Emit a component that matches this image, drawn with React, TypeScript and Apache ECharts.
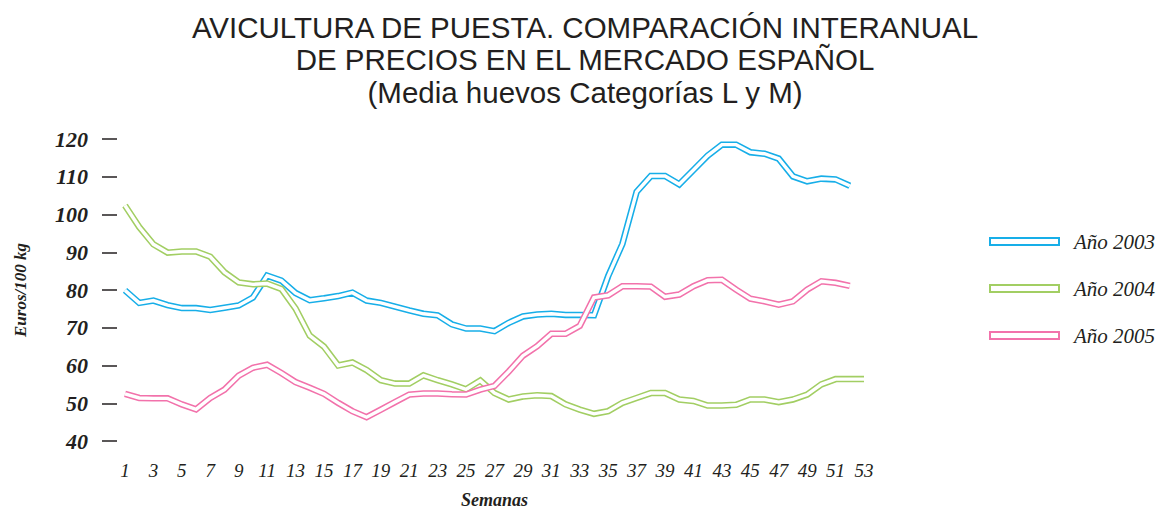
import React, { useEffect, useRef } from "react";
import * as echarts from "echarts";

const weeks: string[] = Array.from({ length: 53 }, (_, i) => String(i + 1));

const yTicks = { min: 40, max: 120, interval: 10 };

const titleLines = [
  "AVICULTURA DE PUESTA. COMPARACIÓN INTERANUAL",
  "DE PRECIOS EN EL MERCADO ESPAÑOL",
  "(Media huevos Categorías L y M)",
];

const seriesNames = ["Año 2003", "Año 2004", "Año 2005"];
const seriesColors = ["#17aee8", "#a2ce63", "#f272ab"];

const y2003 = [
  79.9, 76.6, 77.2, 76.0, 75.2, 75.2, 74.7, 75.3, 75.9, 78.0, 83.8, 82.5, 79.2,
  77.3, 77.8, 78.4, 79.3, 77.2, 76.6, 75.6, 74.6, 73.7, 73.3, 70.9, 69.8, 69.8,
  69.1, 71.3, 73.0, 73.5, 73.7, 73.4, 73.4, 73.3, 83.7, 92.2, 106.0, 110.2,
  110.2, 108.0, 111.8, 115.6, 118.5, 118.5, 116.5, 116.1, 114.8, 110.1, 108.8,
  109.5, 109.3, 107.6,
];

const y2004 = [
  102.4, 96.7, 92.1, 89.9, 90.2, 90.2, 88.8, 84.7, 82.0, 81.5, 81.7, 80.3, 75.1,
  67.9, 65.0, 60.0, 60.8, 58.8, 56.1, 55.2, 55.2, 57.4, 56.1, 55.0, 53.7, 56.0,
  52.7, 51.0, 51.8, 52.1, 51.9, 49.7, 48.3, 47.2, 47.9, 50.1, 51.4, 52.7, 52.7,
  51.0, 50.6, 49.4, 49.4, 49.6, 51.0, 51.0, 50.3, 51.0, 52.3, 55.0, 56.4, 56.4,
  56.4,
];

const y2005 = [
  52.5, 51.4, 51.3, 51.3, 49.7, 48.4, 51.4, 53.6, 57.3, 59.4, 60.2, 58.0, 55.6,
  54.1, 52.5, 50.1, 47.9, 46.3, 48.3, 50.3, 52.3, 52.6, 52.6, 52.4, 52.3, 53.6,
  54.6, 58.4, 62.6, 65.1, 68.4, 68.4, 70.5, 78.0, 78.6, 81.0, 81.0, 80.9, 78.2,
  78.8, 81.0, 82.6, 82.7, 80.1, 77.7, 77.0, 76.1, 77.0, 80.1, 82.3, 81.9, 81.1,
];

const seriesData = [y2003, y2004, y2005];

const TEXT = "#231f20";
const SERIF = "'Liberation Serif', 'DejaVu Serif', serif";

export default function App() {
  const ref = useRef<HTMLDivElement>(null);

  useEffect(() => {
    if (!ref.current) return;
    const chart = echarts.init(ref.current, null, { renderer: "svg" });

    const series: any[] = [];
    seriesData.forEach((d, i) => {
      series.push({
        name: seriesNames[i],
        type: "line",
        data: d,
        symbol: "none",
        z: 2 + i * 2,
        itemStyle: { color: "#ffffff", borderColor: seriesColors[i], borderWidth: 2 },
        lineStyle: { color: seriesColors[i], width: 6.5, join: "miter", cap: "butt" },
      });
      series.push({
        name: seriesNames[i] + " ",
        type: "line",
        data: d,
        symbol: "none",
        z: 3 + i * 2,
        lineStyle: { color: "#ffffff", width: 3.4, join: "miter", cap: "butt" },
      });
    });

    chart.setOption({
      animation: false,
      backgroundColor: "#ffffff",
      title: {
        text: titleLines.join("\n"),
        left: 580,
        top: 6,
        textAlign: "center",
        textStyle: {
          fontFamily: "'Liberation Sans', Arial, sans-serif",
          fontWeight: "normal",
          fontSize: 29.5,
          lineHeight: 32.5,
          color: TEXT,
        },
      },
      legend: {
        data: seriesNames.map((n, i) => ({
          name: n,
          icon: "rect",
          itemStyle: { color: "#ffffff", borderColor: seriesColors[i], borderWidth: 2 },
        })),
        orient: "vertical",
        left: 984,
        top: 226,
        itemWidth: 69,
        itemHeight: 7,
        itemGap: 26,
        selectedMode: false,
        textStyle: {
          fontFamily: SERIF,
          fontStyle: "italic",
          fontSize: 21,
          color: TEXT,
          padding: [0, 0, 0, 10],
        },
      },
      grid: { left: 125, right: 296, top: 139, bottom: 72, outerBoundsMode: "none" },
      xAxis: {
        type: "category",
        data: weeks,
        boundaryGap: false,
        axisLine: { show: false },
        axisTick: { show: false },
        splitLine: { show: false },
        axisLabel: {
          interval: 1,
          margin: 20,
          fontFamily: SERIF,
          fontStyle: "italic",
          fontSize: 19,
          color: TEXT,
        },
        name: "Semanas",
        nameLocation: "middle",
        nameGap: 50,
        nameTextStyle: {
          fontFamily: SERIF,
          fontStyle: "italic",
          fontWeight: "bold",
          fontSize: 18,
          color: TEXT,
        },
      },
      yAxis: {
        type: "value",
        min: yTicks.min,
        max: yTicks.max,
        interval: yTicks.interval,
        offset: 8,
        axisLine: { show: false },
        axisTick: { show: true, length: 15, lineStyle: { color: TEXT, width: 1.5 } },
        splitLine: { show: false },
        axisLabel: {
          margin: 29,
          fontFamily: SERIF,
          fontStyle: "italic",
          fontWeight: "bold",
          fontSize: 22,
          color: TEXT,
        },
        name: "Euros/100 kg",
        nameLocation: "middle",
        nameRotate: 90,
        nameGap: 88,
        nameTextStyle: {
          fontFamily: SERIF,
          fontStyle: "italic",
          fontWeight: "bold",
          fontSize: 17,
          color: TEXT,
        },
      },
      series,
    });

    return () => chart.dispose();
  }, []);

  return (
    <div
      ref={ref}
      style={{ position: "fixed", left: 0, top: 0, width: 1160, height: 513 }}
    />
  );
}
